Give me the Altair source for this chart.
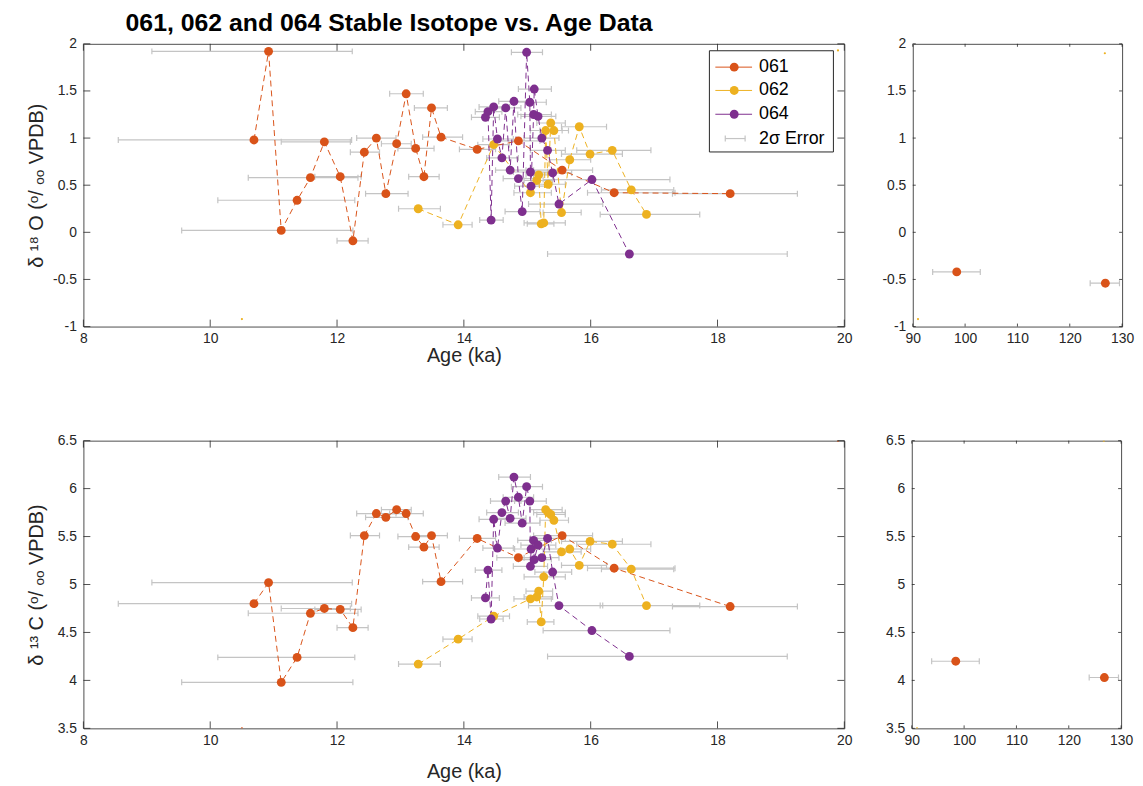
import altair as alt
import pandas as pd

# ---------------- data ----------------
series_names = ["061", "062", "064"]
series_colors = ["#D95319", "#EDB120", "#7E2F8E"]

# 061 (young part)
s061_age = [10.69, 10.92, 11.12, 11.37, 11.58, 11.80, 12.05, 12.25, 12.43, 12.62, 12.77,
            12.94, 13.09, 13.24, 13.37, 13.49, 13.64, 14.21, 14.86, 15.55, 16.37, 18.20]
s061_lo = [8.55, 9.08, 9.55, 10.12, 10.60, 11.12, 11.65, 12.00, 12.21, 12.31, 12.45,
           12.70, 12.83, 12.96, 13.13, 13.22, 13.35, 13.93, 14.52, 15.10, 15.95, 17.29]
s061_hi = [12.23, 12.24, 12.25, 12.28, 12.33, 12.21, 12.38, 12.49, 12.67, 12.93, 13.12,
           13.17, 13.36, 13.53, 13.61, 13.74, 13.98, 14.50, 15.20, 16.03, 17.33, 19.26]
s061_d18O = [0.98, 1.92, 0.02, 0.34, 0.58, 0.96, 0.59, -0.09, 0.85, 1.00, 0.41,
             0.94, 1.47, 0.89, 0.59, 1.32, 1.01, 0.88, 0.97, 0.66, 0.42, 0.41]
s061_d13C = [4.80, 5.02, 3.98, 4.24, 4.70, 4.75, 4.74, 4.55, 5.51, 5.74, 5.70,
             5.78, 5.74, 5.50, 5.39, 5.51, 5.03, 5.48, 5.28, 5.51, 5.17, 4.77]

# 061 (old part, right panels)
s061o_age = [98.4, 126.8]
s061o_lo = [93.8, 123.9]
s061o_hi = [102.9, 129.5]
s061o_d18O = [-0.42, -0.54]
s061o_d13C = [4.20, 4.03]

# 062
s062_age = [13.28, 13.91, 14.47, 15.05, 15.15, 15.18, 15.22, 15.26, 15.29, 15.33,
            15.37, 15.42, 15.54, 15.67, 15.82, 15.99, 16.34, 16.64, 16.88]
s062_lo = [12.97, 13.67, 14.22, 14.79, 14.95, 14.98, 15.00, 14.95, 15.05, 15.10,
           15.15, 15.20, 15.25, 15.35, 15.54, 15.54, 15.78, 16.17, 16.15]
s062_hi = [13.63, 14.13, 14.72, 15.38, 15.40, 15.40, 15.42, 15.60, 15.55, 15.60,
           15.60, 15.65, 15.85, 16.00, 16.25, 16.50, 16.95, 17.31, 17.72]
s062_d18O = [0.25, 0.08, 0.93, 0.42, 0.55, 0.61, 0.09, 0.10, 1.08, 0.51,
             1.16, 1.08, 0.21, 0.77, 1.12, 0.83, 0.87, 0.45, 0.19]
s062_d13C = [4.17, 4.43, 4.67, 4.85, 4.87, 4.93, 4.61, 5.08, 5.78, 5.75,
             5.73, 5.67, 5.34, 5.37, 5.20, 5.45, 5.42, 5.16, 4.78]

# 064
s064_age = [14.34, 14.38, 14.43, 14.47, 14.53, 14.60, 14.66, 14.73, 14.79, 14.86, 14.92, 14.99,
            15.04, 15.05, 15.06, 15.10, 15.11, 15.17, 15.23, 15.32, 15.40, 15.50, 16.02, 16.61]
s064_lo = [14.12, 14.18, 14.25, 14.24, 14.30, 14.36, 14.42, 14.50, 14.55, 14.62, 14.65, 14.75,
           14.80, 14.78, 14.80, 14.85, 14.86, 14.90, 14.95, 15.05, 15.12, 15.02, 15.25, 15.32]
s064_hi = [14.56, 14.60, 14.62, 14.72, 14.78, 14.86, 14.90, 14.98, 15.05, 15.10, 15.20, 15.24,
           15.30, 15.32, 15.35, 15.38, 15.38, 15.45, 15.50, 15.60, 15.70, 16.19, 17.25, 19.10]
s064_d18O = [1.22, 1.28, 0.13, 1.33, 0.99, 0.79, 1.32, 0.66, 1.39, 0.57, 0.22, 1.91,
             1.38, 0.64, 0.49, 1.25, 1.52, 1.23, 1.00, 0.87, 0.63, 0.30, 0.56, -0.23]
s064_d13C = [4.86, 5.15, 4.64, 5.68, 5.38, 5.75, 5.87, 5.69, 6.12, 5.91, 5.64, 6.02,
             5.87, 5.19, 5.37, 5.46, 5.26, 5.41, 5.28, 5.48, 5.13, 4.78, 4.52, 4.25]

# tiny stray markers at the axis corners
dots_tl_age = [10.5, 19.9]
dots_tl_val = [-0.92, 1.93]
dots_tl_col = ["#EDB120", "#EDB120"]
dots_bl_age = [10.5, 19.9]
dots_bl_val = [3.5, 6.5]
dots_bl_col = ["#D95319", "#D95319"]
dots_tr_age = [91.0, 126.7]
dots_tr_val = [-0.92, 1.9]
dots_tr_col = ["#EDB120", "#EDB120"]
dots_br_age = [91.0, 126.7]
dots_br_val = [3.5, 6.5]
dots_br_col = ["#EDB120", "#EDB120"]

x_ticks_young = [8, 10, 12, 14, 16, 18, 20]
x_ticks_old = [90, 100, 110, 120, 130]
y_ticks_o = [-1, -0.5, 0, 0.5, 1, 1.5, 2]
y_ticks_c = [3.5, 4, 4.5, 5, 5.5, 6, 6.5]

legend_labels = ["061", "062", "064", "2σ Error"]

TITLE = "061, 062 and 064 Stable Isotope vs. Age Data"
YTITLE_O = "δ  ¹⁸ O (ᵒ/ ₒₒ  VPDB)"
YTITLE_C = "δ  ¹³ C (ᵒ/ ₒₒ  VPDB)"
XTITLE = "Age (ka)"

# ---------------- style ----------------
FONT = "Liberation Sans"
ERR_COLOR = "#c4c4c4"
AX_COLOR = "#262626"
FRAME = "#4d4d4d"


def make_df(name, age, lo, hi, d18, d13):
    return pd.DataFrame({"series": [name] * len(age), "idx": list(range(len(age))),
                         "age": age, "lo": lo, "hi": hi, "d18O": d18, "d13C": d13})


young = pd.concat([
    make_df("061", s061_age, s061_lo, s061_hi, s061_d18O, s061_d13C),
    make_df("062", s062_age, s062_lo, s062_hi, s062_d18O, s062_d13C),
    make_df("064", s064_age, s064_lo, s064_hi, s064_d18O, s064_d13C),
], ignore_index=True)
old = make_df("061", s061o_age, s061o_lo, s061o_hi, s061o_d18O, s061o_d13C)

color_scale = alt.Scale(domain=series_names, range=series_colors)


def legend_layers():
    one = pd.DataFrame({"a": [0]})
    layers = [alt.Chart(one).mark_rect(fill="white", stroke=AX_COLOR, strokeWidth=1).encode(
        x=alt.value(631), x2=alt.value(756), y=alt.value(7), y2=alt.value(109))]
    ys = [23.5, 47, 71, 95.5]
    for i, lab in enumerate(legend_labels):
        yy = ys[i]
        if i < 3:
            c = series_colors[i]
            layers.append(alt.Chart(one).mark_rule(color=c, strokeWidth=1).encode(
                x=alt.value(637), x2=alt.value(674), y=alt.value(yy)))
            layers.append(alt.Chart(one).mark_circle(color=c, size=80, opacity=1).encode(
                x=alt.value(656), y=alt.value(yy)))
        else:
            layers.append(alt.Chart(one).mark_rule(color=ERR_COLOR, strokeWidth=1.2).encode(
                x=alt.value(647), x2=alt.value(667), y=alt.value(yy)))
            for xx in (647, 667):
                layers.append(alt.Chart(one).mark_rule(color=ERR_COLOR, strokeWidth=1.2).encode(
                    x=alt.value(xx), y=alt.value(yy - 3), y2=alt.value(yy + 3)))
        layers.append(alt.Chart(one).mark_text(align="left", baseline="middle", fontSize=18,
                                               font=FONT, color="black").encode(
            x=alt.value(681), y=alt.value(yy), text=alt.value(lab)))
    return layers


def panel(df, field, xdom, xticks, ydom, yticks, W, H, tlen, ytitle, xtitle, xtpad,
          with_lines, dots, legend):
    xs = alt.Scale(domain=xdom, nice=False, zero=False)
    ys = alt.Scale(domain=ydom, nice=False, zero=False)
    common = dict(ticks=False, domain=False, grid=False, labelExpr="'' + datum.value",
                  labelFontSize=14, labelFont=FONT, labelColor=AX_COLOR, labelFlush=False,
                  labelOverlap=False, titleFontSize=20, titleFont=FONT, titleColor=AX_COLOR,
                  titleFontWeight="normal")
    if xtitle:
        xaxis = alt.Axis(values=xticks, title=xtitle, labelPadding=5, titlePadding=xtpad, **common)
    else:
        xaxis = alt.Axis(values=xticks, title=None, labelPadding=5, **common)
    if ytitle:
        yaxis = alt.Axis(values=yticks, title=ytitle, labelPadding=7, minExtent=31, maxExtent=31,
                         titlePadding=6, **common)
    else:
        yaxis = alt.Axis(values=yticks, title=None, labelPadding=7, **common)

    base = alt.Chart(df)
    layers = [
        base.mark_rule(color=ERR_COLOR, strokeWidth=1.2, clip=True).encode(
            x=alt.X("lo:Q", scale=xs, axis=xaxis), x2="hi:Q",
            y=alt.Y(f"{field}:Q", scale=ys, axis=yaxis)),
        base.mark_tick(orient="vertical", color=ERR_COLOR, size=6, thickness=1.2, opacity=1,
                       clip=True).encode(x="lo:Q", y=f"{field}:Q"),
        base.mark_tick(orient="vertical", color=ERR_COLOR, size=6, thickness=1.2, opacity=1,
                       clip=True).encode(x="hi:Q", y=f"{field}:Q"),
    ]
    if with_lines:
        layers.append(base.mark_line(strokeDash=[6, 4], strokeWidth=1, clip=True).encode(
            x="age:Q", y=f"{field}:Q",
            color=alt.Color("series:N", scale=color_scale, legend=None),
            order="idx:Q"))
    layers.append(base.mark_circle(size=80, opacity=1, clip=True).encode(
        x="age:Q", y=f"{field}:Q",
        color=alt.Color("series:N", scale=color_scale, legend=None)))
    dage, dval, dcol = dots
    ddf = pd.DataFrame({"age": dage, field: dval, "c": dcol})
    layers.append(alt.Chart(ddf).mark_circle(size=5, opacity=1, clip=True).encode(
        x="age:Q", y=f"{field}:Q", color=alt.Color("c:N", scale=None)))

    xt = alt.Chart(pd.DataFrame({"age": xticks}))
    yt = alt.Chart(pd.DataFrame({field: yticks}))
    layers += [
        xt.mark_rule(color=AX_COLOR, strokeWidth=0.8).encode(
            x="age:Q", y=alt.value(H), y2=alt.value(H - tlen)),
        xt.mark_rule(color=AX_COLOR, strokeWidth=0.8).encode(
            x="age:Q", y=alt.value(0), y2=alt.value(tlen)),
        yt.mark_rule(color=AX_COLOR, strokeWidth=0.8).encode(
            y=f"{field}:Q", x=alt.value(0), x2=alt.value(tlen)),
        yt.mark_rule(color=AX_COLOR, strokeWidth=0.8).encode(
            y=f"{field}:Q", x=alt.value(W - tlen), x2=alt.value(W)),
    ]
    if legend:
        layers += legend_layers()
    return alt.layer(*layers).properties(width=W, height=H)


tl = panel(young, "d18O", [8, 20], x_ticks_young, [-1, 2], y_ticks_o, 767, 285, 7,
           YTITLE_O, XTITLE, 0, True, (dots_tl_age, dots_tl_val, dots_tl_col), True)
tr = panel(old, "d18O", [90, 130], x_ticks_old, [-1, 2], y_ticks_o, 211, 285, 3,
           None, None, 0, False, (dots_tr_age, dots_tr_val, dots_tr_col), False)
bl = panel(young, "d13C", [8, 20], x_ticks_young, [3.5, 6.5], y_ticks_c, 767, 290, 7,
           YTITLE_C, XTITLE, 15, True, (dots_bl_age, dots_bl_val, dots_bl_col), False)
br = panel(old, "d13C", [90, 130], x_ticks_old, [3.5, 6.5], y_ticks_c, 211, 290, 3,
           None, None, 0, False, (dots_br_age, dots_br_val, dots_br_col), False)

top = alt.hconcat(tl, tr, spacing=28)
bot = alt.hconcat(bl, br, spacing=32)

chart = alt.vconcat(top, bot, spacing=67).properties(
    title=alt.TitleParams(text=TITLE, anchor="start", dx=100, fontSize=25,
                          fontWeight="bold", font=FONT, color="black", offset=0),
    padding={"left": 18, "top": 0, "right": 0, "bottom": 0},
).configure_view(stroke=FRAME, strokeWidth=1)

chart.save("out.html", embed_options={"renderer": "svg", "actions": False})
